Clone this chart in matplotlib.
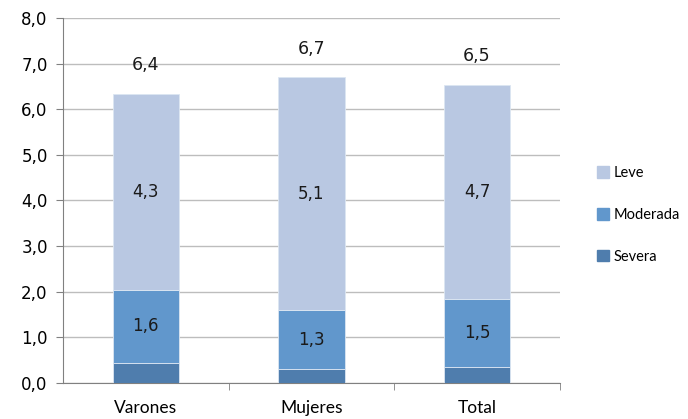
import numpy as np
import matplotlib
matplotlib.use("Agg")
import matplotlib.pyplot as plt
from matplotlib.ticker import FuncFormatter, MultipleLocator, FixedLocator
from matplotlib.patches import Patch

# data
categorias = ["Varones", "Mujeres", "Total"]
severa = [0.44, 0.30, 0.34]
moderada = [1.6, 1.3, 1.5]
leve = [4.3, 5.1, 4.7]
totales = [6.4, 6.7, 6.5]

c_leve = "#B9C8E2"
c_mod = "#6197CC"
c_sev = "#4F7DAD"

def coma(v, pos=None):
    return ("%.1f" % v).replace(".", ",")

fig = plt.figure(figsize=(6.88, 4.19), dpi=100)
ax = fig.add_axes([0.0916, 0.086, 0.722, 0.871])

x = np.arange(len(categorias))
w = 0.40
sev = np.array(severa)
mod = np.array(moderada)
lev = np.array(leve)

ax.bar(x, sev, w, color=c_sev, edgecolor="#DCE6F2", linewidth=0.6, zorder=3)
ax.bar(x, mod, w, bottom=sev, color=c_mod, edgecolor="#DCE6F2", linewidth=0.6, zorder=3)
ax.bar(x, lev, w, bottom=sev + mod, color=c_leve, edgecolor="#DCE6F2", linewidth=0.6, zorder=3)

# value labels
for i in range(len(x)):
    ax.text(x[i], sev[i] + mod[i] / 2, coma(mod[i]), ha="center", va="center",
            fontsize=12, color="#1a1a1a", zorder=4)
    ax.text(x[i], sev[i] + mod[i] + lev[i] / 2, coma(lev[i]), ha="center", va="center",
            fontsize=12, color="#1a1a1a", zorder=4)
    ax.text(x[i], sev[i] + mod[i] + lev[i] + 0.62, coma(totales[i]), ha="center",
            va="center", fontsize=12.5, color="#1a1a1a", zorder=4)

ax.set_ylim(0, 8)
ax.set_xlim(-0.5, 2.5)
ax.yaxis.set_major_locator(MultipleLocator(1))
ax.yaxis.set_major_formatter(FuncFormatter(coma))
ax.yaxis.grid(True, color="#BDBDBD", linewidth=1.0, zorder=0)
ax.set_axisbelow(True)

ax.set_xticks(x)
ax.set_xticklabels(categorias, fontsize=12.5, family="Lato")
ax.xaxis.set_minor_locator(FixedLocator([0.5, 1.5, 2.5]))
ax.tick_params(axis="x", which="major", length=0, pad=12)
ax.tick_params(axis="x", which="minor", length=5, color="#808080", direction="out")
ax.tick_params(axis="y", length=5, color="#808080", direction="out", labelsize=12, pad=6)

for s in ["top", "right"]:
    ax.spines[s].set_visible(False)
ax.spines["left"].set_color("#808080")
ax.spines["bottom"].set_color("#808080")

handles = [Patch(color=c_leve, label="Leve"),
           Patch(color=c_mod, label="Moderada"),
           Patch(color=c_sev, label="Severa")]
fig.legend(handles=handles, loc="center left", bbox_to_anchor=(0.848, 0.487),
           frameon=False, handlelength=0.85, handleheight=0.85,
           handletextpad=0.35, labelspacing=1.9, prop={"family": "Lato", "size": 10.5})

fig.savefig("out.png", dpi=100)
